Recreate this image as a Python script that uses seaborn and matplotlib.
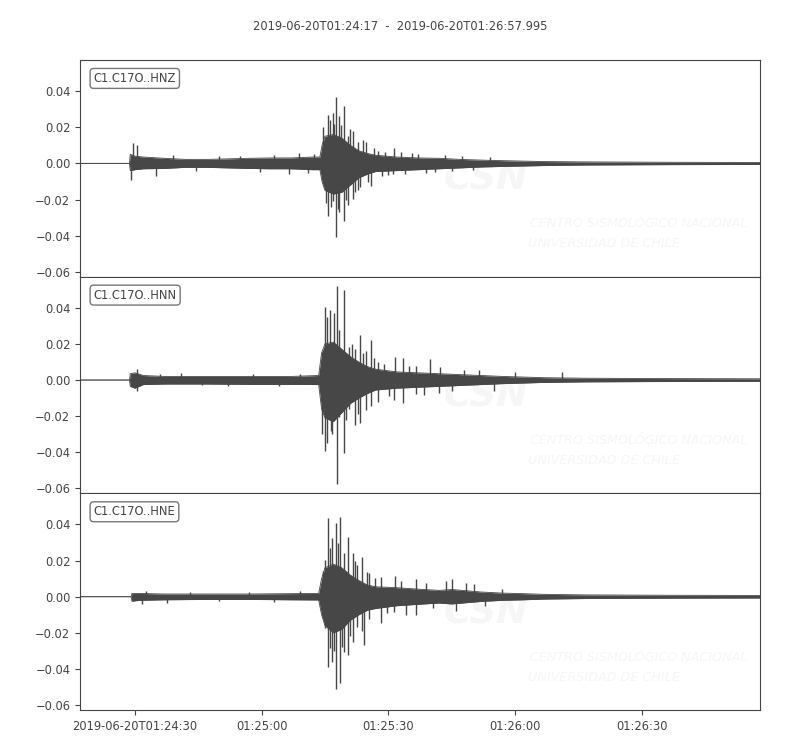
import numpy as np
import pandas as pd
import matplotlib.pyplot as plt
import seaborn as sns

# --- data (seconds after 2019-06-20T01:24:17) ---
title = "2019-06-20T01:24:17  -  2019-06-20T01:26:57.995"
channels = ["C1.C17O..HNZ", "C1.C17O..HNN", "C1.C17O..HNE"]
duration = 160.995
xtick_pos = [13, 43, 73, 103, 133]
xtick_labels = ["2019-06-20T01:24:30", "01:25:00", "01:25:30", "01:26:00", "01:26:30"]
yticks = [-0.06, -0.04, -0.02, 0.00, 0.02, 0.04]

# HNZ envelope (dense part of the trace) and single spikes
hnz_t = [0, 11.7, 11.9, 13, 15, 20, 25, 30, 35, 40, 45, 50, 55, 56.8, 57.3, 58, 60, 62, 64, 66, 68,
         70, 75, 80, 85, 90, 95, 100, 110, 120, 140, 160.995]
hnz_up = [0, 0, 0.005, 0.004, 0.0035, 0.0028, 0.0022, 0.0022, 0.0025, 0.0028, 0.003, 0.003, 0.0035,
          0.0035, 0.01, 0.015, 0.016, 0.014, 0.01, 0.007, 0.0055, 0.0045, 0.0035, 0.003, 0.0028, 0.0022,
          0.0018, 0.0015, 0.001, 0.0008, 0.0006, 0.0005]
hnz_lo = [0, 0, -0.004, -0.0035, -0.003, -0.0028, -0.0022, -0.0022, -0.0025, -0.0028, -0.003, -0.003,
          -0.0035, -0.0035, -0.01, -0.015, -0.017, -0.016, -0.012, -0.008, -0.006, -0.0045, -0.004,
          -0.0035, -0.003, -0.0025, -0.002, -0.0017, -0.0012, -0.0009, -0.0007, -0.0006]
hnz_spike_t = [12.0, 12.5, 13.5, 18.1, 22.0, 27.5, 33.0, 37.8, 42.5, 46.0, 49.6, 51.9, 54.0, 55.5,
               57.6, 58.2, 58.7, 58.7, 59.2, 59.5, 59.8, 59.8, 60.1, 60.5, 60.5, 61.0, 61.4, 61.4, 61.9,
               62.4, 62.4, 62.9, 63.4, 63.4, 64.0, 64.6, 64.6, 65.2, 65.8, 65.8, 66.4, 66.9, 67.7, 68.3,
               68.9, 69.7, 70.5, 71.5, 72.3, 73.0, 74.0, 74.4, 76.0, 77.0, 78.5, 80.0, 82.0, 84.0, 86.5,
               88.0, 90.5, 93.0, 97.0]
hnz_spike_v = [-0.009, 0.011, 0.010, -0.007, 0.0045, -0.004, 0.0042, 0.004, -0.0047, 0.0048, -0.006,
               0.006, -0.0055, 0.0052, 0.02, -0.022, 0.027, -0.029, 0.024, -0.024, 0.028, -0.021, 0.022,
               0.0365, -0.041, -0.025, 0.026, -0.027, 0.021, 0.032, -0.032, -0.02, 0.015, -0.023, 0.019,
               0.0177, -0.0197, -0.016, 0.0116, -0.015, -0.013, 0.013, 0.012, -0.0105, -0.0124, 0.0086,
               0.007, -0.007, 0.0065, -0.0065, -0.006, 0.0086, 0.0065, -0.006, 0.006, 0.005, -0.0055,
               -0.005, 0.0045, -0.0045, 0.004, -0.0038, 0.0035]

# HNN
hnn_t = [0, 11.7, 11.9, 13, 15, 20, 30, 40, 50, 56.5, 57.2, 58, 60, 62, 64, 66, 68, 70, 75, 80, 85, 90,
         95, 100, 110, 120, 140, 160.995]
hnn_up = [0, 0, 0.0035, 0.004, 0.0025, 0.002, 0.002, 0.002, 0.002, 0.0025, 0.015, 0.02, 0.021, 0.017,
          0.013, 0.01, 0.0075, 0.006, 0.0045, 0.004, 0.0035, 0.003, 0.0025, 0.002, 0.0013, 0.001, 0.0008,
          0.0007]
hnn_lo = [0, 0, -0.0035, -0.0045, -0.0025, -0.0022, -0.0022, -0.0024, -0.0024, -0.0025, -0.016, -0.021,
          -0.023, -0.018, -0.013, -0.01, -0.0075, -0.0055, -0.0045, -0.004, -0.0035, -0.003, -0.0025,
          -0.002, -0.0013, -0.001, -0.0008, -0.0007]
hnn_spike_t = [13.4, 13.6, 19.0, 24.0, 29.0, 35.0, 41.0, 47.0, 52.0, 57.3, 57.3, 57.9, 57.9, 58.4, 58.4,
               59.1, 59.4, 59.7, 60.2, 60.8, 60.8, 61.4, 61.4, 62.4, 62.4, 63.0, 63.6, 63.6, 64.4, 65.2,
               65.2, 65.8, 66.4, 66.4, 67.0, 67.7, 67.7, 68.9, 68.9, 69.6, 70.5, 70.5, 72.0, 73.2, 74.6,
               74.4, 76.4, 76.5, 78.0, 79.5, 79.5, 81.5, 82.8, 84.9, 85.3, 88.0, 91.0, 94.5, 98.0, 103.0,
               114.0]
hnn_spike_v = [0.0063, -0.0061, 0.0033, 0.004, -0.003, -0.0035, 0.0033, -0.0034, 0.0033, 0.0155, -0.03,
               0.0405, -0.039, 0.035, -0.035, 0.0387, -0.028, -0.03, 0.037, 0.052, -0.0576, 0.0276,
               -0.0206, 0.0498, -0.0405, -0.022, 0.0183, -0.016, 0.02, 0.0174, -0.025, -0.019, 0.025,
               -0.024, 0.015, 0.016, -0.0168, 0.022, -0.0146, 0.012, 0.01, -0.0122, 0.009, -0.009, 0.013,
               -0.0113, 0.012, -0.0128, 0.0075, 0.008, -0.0076, -0.0085, 0.0118, -0.0072, 0.007, -0.006,
               0.0055, 0.0054, -0.006, 0.0042, 0.0045]

# HNE
hne_t = [0, 12.1, 12.3, 14, 20, 30, 40, 50, 56.5, 57.2, 58, 60, 62, 64, 66, 68, 70, 75, 80, 85, 88, 92,
         95, 100, 105, 110, 120, 140, 160.995]
hne_up = [0, 0, 0.0018, 0.0018, 0.0015, 0.0015, 0.0015, 0.0017, 0.0018, 0.01, 0.016, 0.018, 0.016,
          0.012, 0.009, 0.0065, 0.0055, 0.005, 0.0042, 0.0035, 0.004, 0.0032, 0.0026, 0.002, 0.0017,
          0.0013, 0.001, 0.0008, 0.0007]
hne_lo = [0, 0, -0.0025, -0.002, -0.0017, -0.0015, -0.0015, -0.0017, -0.0018, -0.01, -0.016, -0.02,
          -0.018, -0.013, -0.01, -0.0075, -0.0065, -0.005, -0.0042, -0.0035, -0.004, -0.0032, -0.0026,
          -0.002, -0.0017, -0.0013, -0.001, -0.0008, -0.0007]
hne_spike_t = [14.6, 15.7, 20.5, 26.0, 33.0, 40.0, 46.0, 52.0, 57.5, 57.5, 58.0, 58.0, 58.6, 58.6, 59.2,
               59.2, 59.6, 59.6, 60.1, 60.6, 60.6, 61.1, 61.6, 61.6, 62.1, 62.6, 62.6, 63.4, 63.4, 64.0,
               64.7, 64.7, 65.2, 65.7, 65.7, 66.8, 66.8, 67.3, 68.0, 68.5, 68.5, 69.8, 71.3, 71.3, 72.8,
               74.4, 74.6, 76.0, 77.2, 79.5, 79.5, 81.9, 83.5, 86.6, 88.0, 89.0, 91.5, 93.3, 96.0, 100.0]
hne_spike_v = [-0.004, 0.003, -0.0035, 0.0025, -0.0025, 0.0026, -0.0028, 0.003, 0.014, -0.012, 0.0205,
               -0.0174, 0.0437, -0.0387, 0.027, -0.0285, 0.0326, -0.036, -0.03, 0.041, -0.0513, 0.03,
               0.044, -0.0476, -0.028, 0.024, -0.0304, 0.033, -0.032, -0.022, 0.024, -0.025, 0.02, 0.0178,
               -0.0165, 0.022, -0.019, -0.0267, 0.0135, 0.013, -0.0124, 0.0105, 0.0109, -0.0145, -0.009,
               -0.0085, 0.0117, 0.0085, -0.01, 0.0098, -0.01, 0.0076, -0.0063, 0.0088, 0.01, -0.0081,
               0.0076, 0.007, -0.005, 0.0045]

traces = [
    (hnz_t, hnz_up, hnz_lo, hnz_spike_t, hnz_spike_v),
    (hnn_t, hnn_up, hnn_lo, hnn_spike_t, hnn_spike_v),
    (hne_t, hne_up, hne_lo, hne_spike_t, hne_spike_v),
]

# --- style ---
sns.set_style("ticks")
plt.rcParams["font.family"] = ["DejaVu Sans"]
ink = "#444444"
trace_color = "#474747"
mark = "#f6f6f6"
plt.rcParams.update({
    "axes.edgecolor": ink, "xtick.color": ink, "ytick.color": ink,
    "text.color": ink, "axes.labelcolor": ink,
    "xtick.labelsize": 8.3, "ytick.labelsize": 8.3,
})

fig, axes = plt.subplots(3, 1, figsize=(8, 7.5), dpi=100, sharex=True, sharey=True)
fig.subplots_adjust(left=0.1, right=0.95, top=0.92, bottom=0.0533, hspace=0)

for ax, name, (t, up, lo, st, sv) in zip(axes, channels, traces):
    df = pd.DataFrame({"t": t, "up": up, "lo": lo})
    # faint CSN watermark behind the trace
    ax.text(0.597, 0.447, "CSN", transform=ax.transAxes, ha="center", va="center",
            fontsize=27, fontweight="bold", style="italic", color=mark, zorder=0, clip_on=True)
    ax.text(0.662, 0.244, "CENTRO SISMOLÓGICO NACIONAL", transform=ax.transAxes, ha="left",
            va="center", fontsize=9.2, style="italic", color=mark, zorder=0, clip_on=True)
    ax.text(0.659, 0.152, "UNIVERSIDAD DE CHILE", transform=ax.transAxes, ha="left",
            va="center", fontsize=9.2, style="italic", color=mark, zorder=0, clip_on=True)

    ax.fill_between(df["t"], df["lo"], df["up"], color=trace_color, lw=0, zorder=2)
    sns.lineplot(data=df, x="t", y="up", ax=ax, color=trace_color, lw=0.6, zorder=2)
    sns.lineplot(data=df, x="t", y="lo", ax=ax, color=trace_color, lw=0.6, zorder=2)
    ax.vlines(st, 0, sv, color=trace_color, lw=1.0, zorder=2)

    ax.text(0.02, 0.945, name, transform=ax.transAxes, ha="left", va="top", fontsize=8.3,
            color=ink, zorder=5,
            bbox=dict(boxstyle="round,pad=0.3", fc="white", ec="#777777", lw=1))
    ax.set_xlabel("")
    ax.set_ylabel("")
    ax.set_yticks(yticks)
    for sp in ax.spines.values():
        sp.set_visible(True)
        sp.set_color(ink)

axes[0].set_xlim(0, duration)
axes[0].set_ylim(-0.0627, 0.0572)
for ax in axes[:-1]:
    ax.tick_params(axis="x", length=0, labelbottom=False)
axes[-1].set_xticks(xtick_pos)
axes[-1].set_xticklabels(xtick_labels)

fig.suptitle(title, y=0.973, fontsize=8.3, color=ink)
fig.savefig("out.png", dpi=100)
